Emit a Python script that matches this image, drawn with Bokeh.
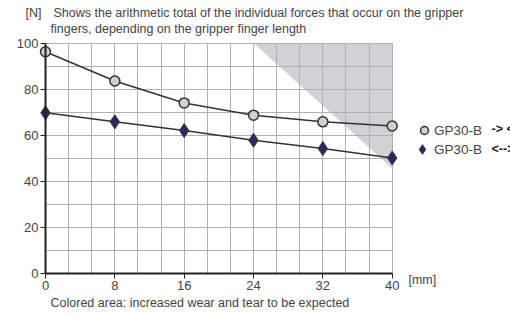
from bokeh.plotting import figure
from bokeh.models import (Label, Legend, LegendItem, FixedTicker, Range1d, LinearAxis, Grid)
from bokeh.embed import file_html
from bokeh.resources import INLINE

# data
finger_length = [0, 8, 16, 24, 32, 40]
force_outer = [96.2, 83.5, 74.0, 68.7, 65.8, 64.0]   # GP30-B -> <-
force_inner = [69.7, 65.8, 62.0, 57.8, 54.2, 50.1]   # GP30-B <-->
wear_x = [24, 40, 40]
wear_y = [100, 100, 45.5]
x_ticks = [0, 8, 16, 24, 32, 40]
y_ticks = [0, 20, 40, 60, 80, 100]
x_grid = [i * 8 / 3 for i in range(16)]
y_grid = [i * 10 for i in range(11)]

FONT = "Liberation Sans"
TXT = "#444444"

W, H = 510, 315
X0, XS = 45.0, 8.667    # pixel of x=0, pixels per mm
Y0, YS = 273.0, 2.305   # pixel of y=0, pixels per N

p = figure(width=W, height=H, output_backend="svg", toolbar_location=None,
           x_range=Range1d(-X0 / XS, (W - X0) / XS),
           y_range=Range1d((Y0 - H) / YS, Y0 / YS),
           x_axis_location=None, y_axis_location=None,
           min_border=0)
p.outline_line_color = None
p.background_fill_color = "white"
for g in list(p.center):
    if isinstance(g, Grid):
        p.center.remove(g)

# shaded wear area
p.patch(wear_x, wear_y, fill_color="#d2d2d4", line_color=None, level="image")

# grid
gx = Grid(dimension=0, ticker=FixedTicker(ticks=x_grid), bounds=(0, 40), cross_bounds=(0, 100),
          grid_line_color="#b0b0b0", grid_line_width=1)
gy = Grid(dimension=1, ticker=FixedTicker(ticks=y_grid), bounds=(0, 100), cross_bounds=(0, 40),
          grid_line_color="#b0b0b0", grid_line_width=1)
p.add_layout(gx, "center")
p.add_layout(gy, "center")

# axes
xa = LinearAxis(fixed_location=0, bounds=(0, 40), ticker=FixedTicker(ticks=x_ticks))
ya = LinearAxis(fixed_location=0, bounds=(0, 100), ticker=FixedTicker(ticks=y_ticks))
for ax in (xa, ya):
    ax.axis_line_color = "#222222"
    ax.axis_line_width = 2
    ax.major_tick_line_color = "#222222"
    ax.major_tick_out = 5
    ax.major_tick_in = 0
    ax.minor_tick_line_color = None
    ax.major_label_text_font = FONT
    ax.major_label_text_font_size = "13px"
    ax.major_label_text_color = TXT
    ax.major_label_standoff = 2
p.add_layout(xa, "below")
p.add_layout(ya, "left")

# lines & markers
p.line(finger_length, force_outer, line_color="#333333", line_width=1.5)
p.line(finger_length, force_inner, line_color="#333333", line_width=1.5)
r1 = p.scatter(finger_length, force_outer, marker="circle", size=10,
               fill_color="#cfcfcf", line_color="#333333", line_width=1.5)
r2 = p.scatter(finger_length, force_inner, marker="diamond", size=14,
               fill_color="#2b2960", line_color="#333333", line_width=1)

leg_style = dict(padding=0, spacing=0, margin=0, label_standoff=0, label_text_font=FONT,
                 label_text_font_size="13.5px", label_text_color=TXT,
                 border_line_color=None, background_fill_alpha=0)
leg1 = Legend(items=[LegendItem(label="GP30-B", renderers=[r1])],
              location=(414, 175), glyph_width=20, glyph_height=20, label_height=20,
              **leg_style)
leg2 = Legend(items=[LegendItem(label="GP30-B", renderers=[r2])],
              location=(410, 153), glyph_width=24, glyph_height=26, label_height=26,
              **leg_style)
p.add_layout(leg1, "center")
p.add_layout(leg2, "center")

p.add_layout(Label(x=51.46, y=62.9, text="-> <-", text_font=FONT, text_font_size="12.5px",
                   text_font_style="bold", text_color="#222222", text_baseline="middle"))
p.add_layout(Label(x=51.46, y=53.8, text="<-->", text_font=FONT, text_font_size="12.5px",
                   text_font_style="bold", text_color="#222222", text_baseline="middle"))

# texts
def lab(x, y, t):
    p.add_layout(Label(x=x, y=y, text=t, text_font=FONT, text_font_size="12.5px",
                       text_color=TXT, text_baseline="middle", text_align="left"))

lab(-2.31, 113.2, "[N]")
lab(0.92, 113.2, "Shows the arithmetic total of the individual forces that occur on the gripper")
lab(0.58, 105.9, "fingers, depending on the gripper finger length")
lab(41.88, -3.0, "[mm]")
lab(0.58, -13.0, "Colored area: increased wear and tear to be expected")

open("out.html", "w").write(file_html(p, INLINE))
